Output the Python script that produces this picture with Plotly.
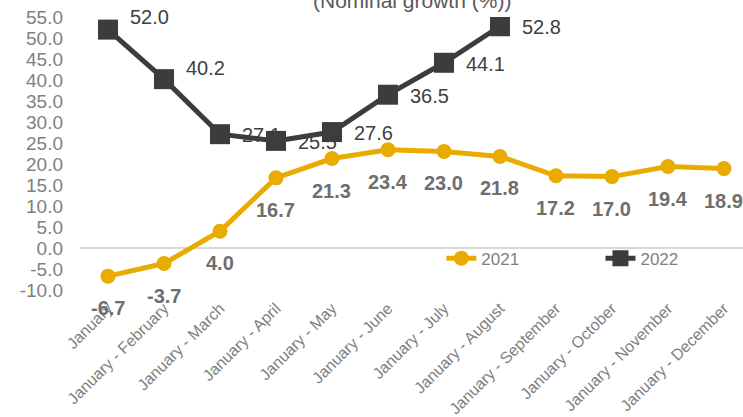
import plotly.graph_objects as go

months = ["January", "January - February", "January - March", "January - April",
          "January - May", "January - June", "January - July", "January - August",
          "January - September", "January - October", "January - November", "January - December"]
values_2021 = [-6.7, -3.7, 4.0, 16.7, 21.3, 23.4, 23.0, 21.8, 17.2, 17.0, 19.4, 18.9]
values_2022 = [52.0, 40.2, 27.1, 25.5, 27.6, 36.5, 44.1, 52.8]
y_ticks = [-10, -5, 0, 5, 10, 15, 20, 25, 30, 35, 40, 45, 50, 55]
title_text = "(Nominal growth (%))"

GOLD = "#EAAB00"
DARK = "#3C3C3C"
FONT = "Liberation Sans, Arial, sans-serif"

# label nudges (style only)
lift_2022 = [14, 12, 0, 0, 0, 0, 0, 0]

fig = go.Figure()
fig.add_trace(go.Scatter(
    x=months, y=values_2021, name="2021", mode="lines+markers",
    line=dict(color=GOLD, width=5),
    marker=dict(symbol="circle", size=15, color=GOLD),
    legend="legend",
))
fig.add_trace(go.Scatter(
    x=months[:len(values_2022)], y=values_2022, name="2022", mode="lines+markers",
    line=dict(color=DARK, width=5),
    marker=dict(symbol="square", size=20, color=DARK),
    legend="legend2",
))

annotations = []
for m, v in zip(months, values_2021):
    annotations.append(dict(x=m, y=v, xref="x", yref="y", text=f"{v:.1f}",
                            showarrow=False, yshift=-32, xanchor="center", yanchor="middle",
                            font=dict(family=FONT, size=20, color="#6E6E6E", weight="bold")))
for m, v, dy in zip(months, values_2022, lift_2022):
    annotations.append(dict(x=m, y=v, xref="x", yref="y", text=f"{v:.1f}",
                            showarrow=False, xshift=20, yshift=dy - 1, xanchor="left", yanchor="middle",
                            font=dict(family=FONT, size=20, color="#404040")))
annotations.append(dict(x=0.5, y=1.062, xref="paper", yref="paper", text=title_text,
                        showarrow=False, xanchor="center", yanchor="middle", xshift=0, yshift=0,
                        font=dict(family=FONT, size=21, color="#595959")))

legend_style = dict(orientation="h", yanchor="middle",
                    font=dict(family=FONT, size=17, color="#7F7F7F"),
                    bgcolor="rgba(0,0,0,0)")

fig.update_layout(
    width=743, height=417,
    margin=dict(l=80, r=0, t=17, b=127),
    paper_bgcolor="white", plot_bgcolor="white",
    font=dict(family=FONT),
    showlegend=True,
    legend=dict(x=0.545, y=0.115, xanchor="left", **legend_style),
    legend2=dict(x=0.785, y=0.115, xanchor="left", **legend_style),
    annotations=annotations,
)
fig.update_xaxes(
    type="category", categoryorder="array", categoryarray=months,
    range=[-0.5, 11.34], showgrid=False, showline=False, ticks="",
    tickangle=-45, ticklabelstandoff=5,
    tickfont=dict(family=FONT, size=16, color="#7F7F7F"),
)
fig.update_yaxes(
    range=[-10, 55], tickvals=y_ticks, ticktext=[f"{t:.1f}" for t in y_ticks],
    showgrid=False, showline=False, ticks="",
    zeroline=True, zerolinecolor="#D9D9D9", zerolinewidth=1.5,
    ticklabelstandoff=16,
    tickfont=dict(family=FONT, size=19, color="#7F7F7F"),
)

fig.write_html("out.html", config={"displayModeBar": False},
               post_script="document.body.style.margin='0';document.body.style.overflow='hidden';")
